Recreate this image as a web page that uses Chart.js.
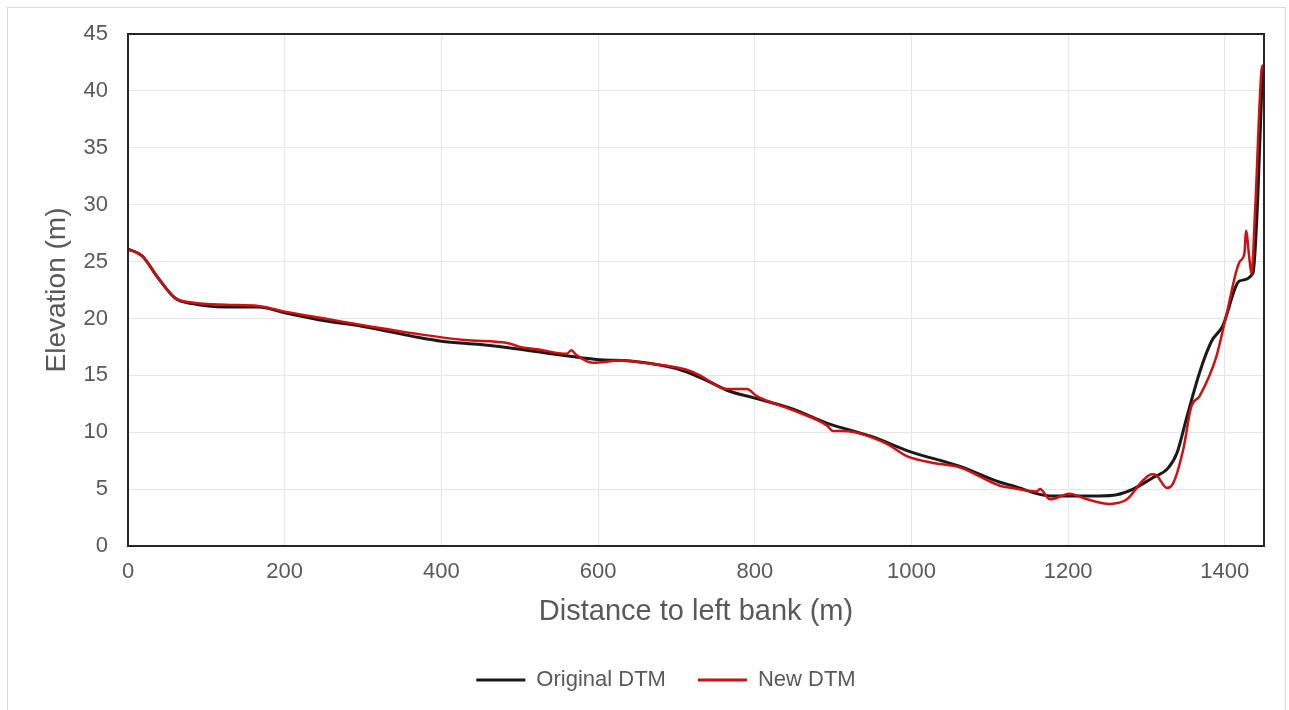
<!DOCTYPE html>
<html>
<head>
<meta charset="utf-8">
<title>Elevation profile</title>
<script src="https://cdn.jsdelivr.net/npm/chart.js@4.4.1/dist/chart.umd.min.js"></script>
<style>
  html, body { margin: 0; padding: 0; background: #fff; overflow: hidden; }
  #frame { position: absolute; left: 7px; top: 7px; width: 1277px; height: 720px; border: 1px solid #d9d9d9; }
  #wrap { position: absolute; left: 0; top: 0; width: 1289px; height: 710px; }
</style>
</head>
<body>
<div id="frame"></div>
<div id="wrap"><canvas id="profileChart"></canvas></div>
<script>
// distances (m) and elevations (m)
var origX = [0, 18, 38, 60, 82, 124, 166, 200, 251, 300, 373, 400, 450, 500, 550, 598, 650, 700, 734, 768, 800, 850, 892, 950, 998, 1062, 1113, 1129, 1177, 1240, 1262, 1283, 1308, 1327, 1339, 1351, 1368, 1383, 1397, 1419, 1436, 1442, 1448];
var origY = [26.1, 25.5, 23.6, 21.8, 21.3, 21.0, 21.0, 20.5, 19.8, 19.3, 18.3, 18.0, 17.7, 17.3, 16.8, 16.4, 16.2, 15.6, 14.7, 13.6, 13.0, 12.0, 10.8, 9.6, 8.3, 7.0, 5.6, 5.3, 4.4, 4.4, 4.5, 5.0, 6.0, 6.8, 8.2, 11.2, 15.3, 18.0, 19.3, 23.3, 24.0, 30.5, 41.9];

var newX = [0, 18, 38, 60, 82, 124, 166, 200, 251, 300, 373, 430, 487, 500, 522, 560, 566, 572, 593, 628, 670, 713, 730, 764, 790, 802, 850, 892, 900, 913, 968, 994, 1028, 1062, 1113, 1129, 1160, 1164, 1177, 1202, 1220, 1253, 1275, 1296, 1307, 1313, 1326, 1334, 1347, 1357, 1368, 1389, 1402, 1419, 1425, 1427, 1431, 1434, 1439, 1447, 1449];
var newY = [26.1, 25.5, 23.6, 21.8, 21.4, 21.2, 21.1, 20.6, 20.0, 19.4, 18.6, 18.1, 17.8, 17.5, 17.3, 16.9, 17.2, 16.8, 16.1, 16.3, 16.0, 15.5, 15.0, 13.8, 13.8, 13.2, 11.9, 10.6, 10.1, 10.1, 9.0, 7.9, 7.3, 6.9, 5.3, 5.1, 4.8, 5.0, 4.1, 4.6, 4.2, 3.7, 4.1, 5.8, 6.3, 6.2, 5.1, 5.5, 8.5, 12.2, 13.2, 16.6, 20.3, 25.0, 25.7, 27.7, 25.5, 23.9, 30.0, 41.9, 42.3];

var xTicks = [0, 200, 400, 600, 800, 1000, 1200, 1400];
var yTicks = [0, 5, 10, 15, 20, 25, 30, 35, 40, 45];

function toPoints(xs, ys) {
    return xs.map(function (x, i) { return { x: x, y: ys[i] }; });
}

var textGray = '#595959';
var fontName = '"Liberation Sans", Arial, sans-serif';

// black box around the plot area
var plotBorder = {
    id: 'plotBorder',
    afterDatasetsDraw: function (chart) {
        var a = chart.chartArea, ctx = chart.ctx;
        ctx.save();
        ctx.strokeStyle = '#262626';
        ctx.lineWidth = 2;
        ctx.strokeRect(a.left, a.top, a.right - a.left, a.bottom - a.top);
        ctx.restore();
    }
};

// legend sits a bit right of the canvas centre in the original
var legendShift = {
    id: 'legendShift',
    afterLayout: function (chart) {
        if (chart.legend) {
            chart.legend.left += 34;
            chart.legend.right += 34;
        }
    }
};

new Chart(document.getElementById('profileChart'), {
    type: 'line',
    data: {
        datasets: [{
            label: 'New DTM',
            data: toPoints(newX, newY),
            borderColor: '#d01010',
            backgroundColor: '#d01010',
            borderWidth: 2.5,
            pointRadius: 0,
            cubicInterpolationMode: 'monotone'
        }, {
            label: 'Original DTM',
            data: toPoints(origX, origY),
            borderColor: '#1a1a1a',
            backgroundColor: '#1a1a1a',
            borderWidth: 3,
            pointRadius: 0,
            cubicInterpolationMode: 'monotone'
        }]
    },
    options: {
        responsive: true,
        maintainAspectRatio: false,
        animation: false,
        layout: { padding: { top: 34, right: 25, left: 0, bottom: 9 } },
        plugins: {
            tooltip: { enabled: false },
            legend: {
                position: 'bottom',
                labels: {
                    boxWidth: 49,
                    boxHeight: 3,
                    padding: 32,
                    color: textGray,
                    font: { family: fontName, size: 22 },
                    sort: function (a, b) { return b.datasetIndex - a.datasetIndex; },
                    generateLabels: function (chart) {
                        return Chart.defaults.plugins.legend.labels.generateLabels(chart).map(function (l) {
                            l.lineWidth = 0;
                            l.fillStyle = l.strokeStyle;
                            return l;
                        });
                    }
                }
            }
        },
        scales: {
            x: {
                type: 'linear',
                min: 0,
                max: 1450,
                afterBuildTicks: function (axis) {
                    axis.ticks = xTicks.map(function (v) { return { value: v }; });
                },
                afterFit: function (axis) { axis.height = 91; },
                grid: { color: '#e6e6e6', lineWidth: 1, drawTicks: false },
                border: { display: false },
                ticks: {
                    padding: 13, color: textGray, maxRotation: 0,
                    font: { family: fontName, size: 22 },
                    callback: function (v) { return String(v); }
                },
                title: {
                    display: true,
                    text: 'Distance to left bank (m)',
                    color: textGray,
                    padding: { top: 0, bottom: 8 },
                    font: { family: fontName, size: 29 }
                }
            },
            y: {
                min: 0,
                max: 45,
                afterBuildTicks: function (axis) {
                    axis.ticks = yTicks.map(function (v) { return { value: v }; });
                },
                afterFit: function (axis) { axis.width = 128; },
                grid: { color: '#e6e6e6', lineWidth: 1, drawTicks: false },
                border: { display: false },
                ticks: {
                    padding: 20, color: textGray,
                    font: { family: fontName, size: 22 },
                    callback: function (v) { return String(v); }
                },
                title: {
                    display: true,
                    text: 'Elevation (m)',
                    color: textGray,
                    padding: { top: 40, bottom: 0 },
                    font: { family: fontName, size: 28 }
                }
            }
        }
    },
    plugins: [plotBorder, legendShift]
});
</script>
</body>
</html>
